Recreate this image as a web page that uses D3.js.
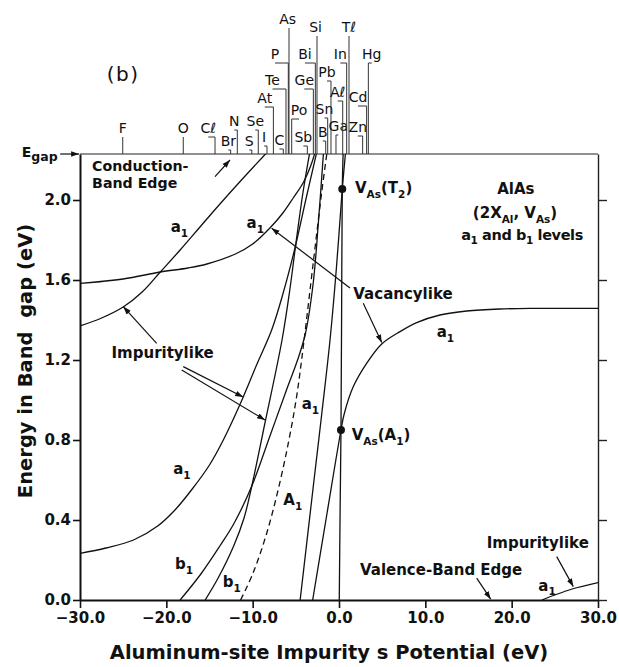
<!DOCTYPE html>
<html><head><meta charset="utf-8">
<script src="https://cdn.jsdelivr.net/npm/d3@7"></script>
<style>
body{margin:0;background:#fff;}
svg text{font-family:"DejaVu Sans",sans-serif;fill:#111;}
</style></head><body>
<svg id="c" width="619" height="667"></svg>
<script>
// ---------- data ----------
const xTicks = [-30,-20,-10,0,10,20,30];
const yTicks = [0,0.4,0.8,1.2,1.6,2.0];
const eGap = 2.23;

const a1ImpUpper = [[-30,1.37],[-27.5,1.41],[-25,1.465],[-22.8,1.54],[-20.7,1.64],[-18.4,1.75],[-16.2,1.86],[-14.2,1.96],[-11.3,2.1],[-8.4,2.235]];
const a1VacUpper = [[-30,1.583],[-25,1.605],[-20.7,1.64],[-17.5,1.66],[-15.3,1.68],[-12,1.73],[-10,1.78],[-8,1.86],[-6.5,1.935],[-5.3,2.01],[-4.1,2.09],[-3.2,2.18],[-2.8,2.235]];
const a1ImpLower = [[-30,0.233],[-27,0.26],[-23.8,0.30],[-21,0.37],[-19,0.45],[-17,0.555],[-15,0.675],[-13.4,0.8],[-11.5,0.975],[-9.5,1.18],[-7.8,1.35],[-6.5,1.53],[-5.1,1.76],[-3.8,2.01],[-2.6,2.235]];
const b1Left = [[-18.4,0],[-16,0.13],[-13.8,0.27],[-12.2,0.38],[-10.1,0.57],[-8,0.82],[-6,1.06],[-4.8,1.2],[-3.9,1.33],[-3.0,1.58],[-2.4,1.88],[-1.8,2.235]];
const b1Right = [[-15.5,0],[-14,0.11],[-12.2,0.27],[-11,0.41],[-10.1,0.57],[-8.6,0.88],[-6.6,1.3],[-5.7,1.55],[-5.0,1.78],[-4.2,2.03],[-3.4,2.235]];
const A1Dashed = [[-11.4,0],[-10,0.13],[-8.4,0.33],[-7.0,0.56],[-5.8,0.8],[-4.9,1.02],[-4.1,1.28],[-3.0,1.68],[-2.0,2.04],[-1.4,2.235]];
const a1Steep = [[-4.5,0],[-3.0,0.56],[-2.0,0.93],[-1.04,1.3],[-0.3,1.66],[0.38,2.055],[0.75,2.235]];
const a1Vertical = [[0.03,0],[0.13,0.45],[0.23,0.85],[0.3,1.4],[0.38,2.055],[0.48,2.235]];
const a1VacRight = [[-3.05,0],[-1.4,0.43],[0.23,0.85],[0.6,0.93],[1.66,1.067],[3.2,1.183],[4.95,1.28],[7.07,1.342],[9.0,1.387],[11.7,1.425],[14.8,1.445],[18.65,1.455],[22.5,1.458],[30,1.458]];
const a1Valence = [[23.5,0],[25,0.025],[27,0.055],[30,0.087]];

const solidCurves = [a1ImpUpper, a1VacUpper, a1ImpLower, b1Left, b1Right, a1Steep, a1Vertical, a1VacRight, a1Valence];
const dashedCurves = [A1Dashed];

const vacancyPoints = [[0.38,2.055],[0.23,0.85]];

// element: name, potential where its line meets Egap, label potential, label level
const elements = [
 ["F",-25.05,-25.05,2.2],["O",-18.04,-18.04,2.2],["Cℓ",-14.36,-15.14,2.2],
 ["Br",-12.55,-12.82,0.9],["N",-11.78,-12.13,2.9],["S",-10.1,-10.4,0.9],
 ["Se",-9.35,-9.7,2.9],["I",-8.34,-8.67,1.3],["At",-7.6,-8.6,5.2],
 ["C",-6.45,-6.9,1.0],["Te",-6.14,-7.7,7.0],["P",-5.87,-7.41,9.6],
 ["As",-5.79,-5.95,13.1],["Po",-5.48,-4.63,4.0],["Sb",-3.67,-4.13,1.3],
 ["Ge",-2.97,-4.02,7.0],["Bi",-2.74,-3.94,9.6],["Si",-2.55,-2.72,12.3],
 ["B",-1.54,-1.88,1.8],["Sn",-1.31,-1.68,4.1],["Pb",-0.93,-1.39,7.8],
 ["Ga",-0.35,-0.08,2.4],["Aℓ",0.43,-0.15,5.8],["In",0.89,0.15,9.6],
 ["Tℓ",1.16,1.14,12.3],["Zn",2.74,2.18,2.3],["Cd",3.2,2.2,5.3],["Hg",3.4,3.79,9.6]
];

const boldLabels = [
 ["Conduction-",-28.6,2.143,14.2],["Band Edge",-28.6,2.058,14.2],
 ["a_{1}",-19.5,1.84],["a_{1}",-10.7,1.86],["Impuritylike",-26.35,1.208],
 ["a_{1}",-19.2,0.63],["b_{1}",-19.0,0.153],["b_{1}",-13.47,0.063],
 ["A_{1}",-6.45,0.475],["a_{1}",-4.32,0.955],
 ["V_{As}(T_{2})",1.85,2.033],["V_{As}(A_{1})",1.47,0.80],
 ["Vacancylike",1.66,1.505],["a_{1}",11.32,1.313],
 ["Impuritylike",17.11,0.26],["Valence-Band Edge",2.43,0.123],["a_{1}",23.09,0.047]
];
const titleLines = [["AlAs",20.48,2.03],["(2X_{Al}, V_{As})",20.39,1.91],["a_{1} and b_{1} levels",21.2,1.80]];

const arrows = [
 [[-21.12,1.283],[-24.99,1.467]],
 [[-18.04,1.167],[-11.1,1.015]],
 [[-18.22,1.15],[-8.57,0.9]],
 [[1.27,1.56],[-7.80,1.859]],
 [[2.81,1.484],[4.95,1.287]],
 [[25.22,0.217],[27.14,0.067]],
 [[15.95,0.109],[17.57,0.004]],
 [[-14.36,2.117],[-12.63,2.20]],
 [[-32.3,eGap],[-30.1,eGap]]
];

// ---------- drawing ----------
const svg = d3.select("#c");
const x = d3.scaleLinear().domain([-30,30]).range([80,598]);
const y = d3.scaleLinear().domain([0,eGap]).range([600,154]);
const level = d3.scaleLinear().domain([0,13.1]).range([155,24]);

const defs = svg.append("defs");
defs.append("clipPath").attr("id","plot").append("rect")
  .attr("x",x(-30)).attr("y",y(eGap)).attr("width",x(30)-x(-30)).attr("height",y(0)-y(eGap));
defs.append("marker").attr("id","ah").attr("viewBox","0 0 10 10").attr("refX",10).attr("refY",5)
  .attr("markerWidth",8).attr("markerHeight",8).attr("markerUnits","userSpaceOnUse").attr("orient","auto")
  .append("path").attr("d","M0,1.5L10,5L0,8.5Z").attr("fill","#111");

function rich(sel, str, size, subSize){
  const parts = str.split(/(_\{[^}]*\})/).filter(s=>s.length);
  let sub=false;
  const off = size*0.3;
  parts.forEach(p=>{
    if(p.startsWith("_{")){
      sel.append("tspan").attr("font-size",subSize).attr("dy",sub?0:off).text(p.slice(2,-1));
      sub=true;
    } else {
      sel.append("tspan").attr("font-size",size).attr("dy",sub?-off:0).text(p);
      sub=false;
    }
  });
}

// axes
const fmt = d3.format(".1f");
const gL = svg.append("g").attr("transform",`translate(${x(-30)},0)`)
  .call(d3.axisLeft(y).tickValues(yTicks).tickFormat(fmt).tickSize(7).tickPadding(2).tickSizeOuter(0));
const gB = svg.append("g").attr("transform",`translate(0,${y(0)})`)
  .call(d3.axisBottom(x).tickValues(xTicks).tickFormat(fmt).tickSize(8).tickPadding(4).tickSizeOuter(0));
const gR = svg.append("g").attr("transform",`translate(${x(30)},0)`)
  .call(d3.axisRight(y).tickValues(yTicks).tickFormat("").tickSize(9).tickSizeOuter(0));
[gL,gB].forEach(g=>{
  g.selectAll("text").attr("font-family","DejaVu Sans").attr("font-weight","bold").attr("font-size",15).attr("fill","#111");
  g.select(".domain").attr("stroke-width",2).attr("stroke","#111");
  g.selectAll(".tick line").attr("stroke-width",1.6).attr("stroke","#111");
});
gR.select(".domain").attr("stroke-width",1.4).attr("stroke","#222");
gR.selectAll(".tick line").attr("stroke-width",1.4).attr("stroke","#222");
// top edge (Egap)
svg.append("line").attr("x1",x(-30)).attr("x2",x(30)).attr("y1",y(eGap)).attr("y2",y(eGap))
  .attr("stroke","#222").attr("stroke-width",1.2);

// curves
const line = d3.line().x(d=>x(d[0])).y(d=>y(d[1])).curve(d3.curveCatmullRom.alpha(0.5));
const gc = svg.append("g").attr("clip-path","url(#plot)");
gc.selectAll("path.s").data(solidCurves).join("path").attr("class","s")
  .attr("d",line).attr("fill","none").attr("stroke","#111").attr("stroke-width",1.3);
gc.selectAll("path.d").data(dashedCurves).join("path").attr("class","d")
  .attr("d",line).attr("fill","none").attr("stroke","#111").attr("stroke-width",1.3).attr("stroke-dasharray","6,4");

// vacancy points
svg.selectAll("circle.v").data(vacancyPoints).join("circle").attr("class","v")
  .attr("cx",d=>x(d[0])).attr("cy",d=>y(d[1])).attr("r",4).attr("fill","#111");

// elements
const ge = svg.append("g");
elements.forEach(([name,pot,lab,lev])=>{
  const by = level(lev);
  const yb = by+4;
  const lx = x(lab), px = x(pot);
  const path = d3.path();
  if(Math.abs(lx-px)>2){ path.moveTo(lx,yb); path.lineTo(px,yb); }
  else path.moveTo(px,yb);
  path.lineTo(px,y(eGap));
  ge.append("path").attr("d",path.toString()).attr("fill","none").attr("stroke","#333").attr("stroke-width",1);
  ge.append("text").attr("x",lx).attr("y",by).attr("text-anchor","middle")
    .attr("font-family","Liberation Sans").attr("font-size",14).text(name);
});

// arrows
svg.selectAll("line.a").data(arrows).join("line").attr("class","a")
  .attr("x1",d=>x(d[0][0])).attr("y1",d=>y(d[0][1])).attr("x2",d=>x(d[1][0])).attr("y2",d=>y(d[1][1]))
  .attr("stroke","#111").attr("stroke-width",1.2).attr("marker-end","url(#ah)");

// bold labels
boldLabels.forEach(([t,px,pe,fs])=>{
  const tx = svg.append("text").attr("x",x(px)).attr("y",y(pe)).attr("font-weight","bold");
  rich(tx,t,fs||15,10.5);
});
titleLines.forEach(([t,px,pe],i)=>{
  const tx = svg.append("text").attr("x",x(px)).attr("y",y(pe)).attr("font-weight","bold").attr("text-anchor","middle");
  if(i===2) tx.attr("letter-spacing",-0.4);
  rich(tx,t,i===2?14.5:15,10.5);
});

// Egap label
const eg = svg.append("text").attr("x",21.7).attr("y",y(eGap)+2.7).attr("font-weight","bold");
rich(eg,"E_{gap}",14,12.5);

// (b)
svg.append("text").attr("x",x(-26.9)).attr("y",y(2.595)).attr("font-family","Liberation Sans")
  .attr("font-size",20).attr("letter-spacing",1.5).text("(b)");

// axis titles
svg.append("text").attr("transform",`translate(31.5,${(y(0)+y(eGap))/2-16}) rotate(-90)`)
  .attr("text-anchor","middle").attr("font-weight","bold").attr("font-size",19.5)
  .style("white-space","pre").text("Energy in Band  gap (eV)");
svg.append("text").attr("x",329).attr("y",659).attr("text-anchor","middle")
  .attr("font-weight","bold").attr("font-size",19.5).text("Aluminum-site Impurity s Potential (eV)");
</script>
</body></html>
